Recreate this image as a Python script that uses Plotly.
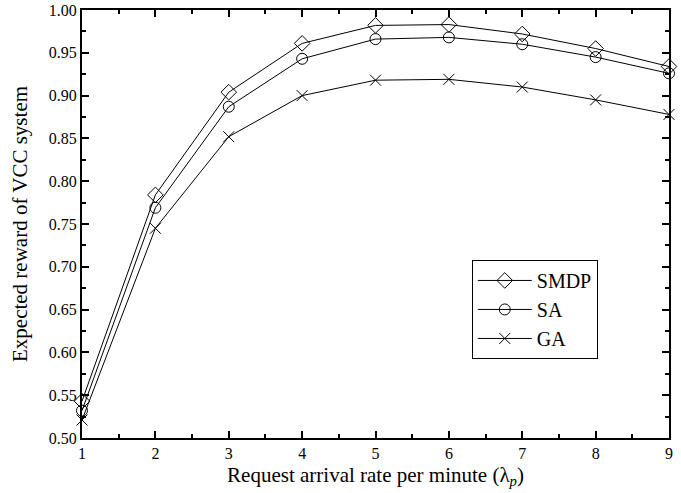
import plotly.graph_objects as go

x_vals = [1, 2, 3, 4, 5, 6, 7, 8, 9]
smdp = [0.543, 0.784, 0.904, 0.961, 0.982, 0.983, 0.972, 0.955, 0.934]
sa = [0.532, 0.769, 0.887, 0.943, 0.966, 0.968, 0.960, 0.945, 0.926]
ga = [0.521, 0.745, 0.852, 0.900, 0.918, 0.919, 0.910, 0.895, 0.878]

series = [
    ("SMDP", smdp, "diamond-open", 12),
    ("SA", sa, "circle-open", 11),
    ("GA", ga, "x-thin-open", 11),
]

fig = go.Figure()
for name, vals, sym, sz in series:
    fig.add_trace(go.Scatter(
        x=x_vals, y=vals, name=name, mode="lines+markers",
        line=dict(color="black", width=1),
        marker=dict(symbol=sym, size=sz, color="black",
                    line=dict(color="black", width=1)),
        cliponaxis=False,
    ))

font = "Liberation Serif, Times New Roman, serif"
axis_common = dict(
    showline=True, linecolor="black", linewidth=2, mirror="allticks",
    ticks="inside", ticklen=7, tickwidth=1.5, tickcolor="black",
    showgrid=False, zeroline=False, automargin=False,
    tickfont=dict(family=font, size=16, color="black"),
)

fig.update_layout(
    width=681, height=493,
    margin=dict(l=82, r=12, t=10, b=55),
    paper_bgcolor="white", plot_bgcolor="white",
    font=dict(family=font, color="black"),
    showlegend=True,
    legend=dict(
        x=0.664, y=0.416, xanchor="left", yanchor="top",
        bordercolor="black", borderwidth=1, bgcolor="white",
        font=dict(family=font, size=20, color="black"),
        tracegroupgap=0, itemwidth=54,
    ),
    xaxis=dict(
        range=[1, 9], tickvals=x_vals, ticktext=[str(v) for v in x_vals],
        minor=dict(ticks="inside", dtick=0.5, tick0=1, ticklen=4, tickwidth=1.5, tickcolor="black"),
        title=dict(text="Request arrival rate per minute (λ<sub><i>p</i></sub>)",
                   font=dict(family=font, size=21, color="black"), standoff=6),
        **axis_common,
    ),
    yaxis=dict(
        range=[0.5, 1.0], dtick=0.05, tick0=0.5, tickformat=".2f",
        minor=dict(ticks="inside", dtick=0.025, ticklen=4, tickwidth=1.5, tickcolor="black"),
        title=dict(text="Expected reward of VCC system",
                   font=dict(family=font, size=21, color="black"), standoff=15),
        **axis_common,
    ),
)

fig.write_html("out.html", config={"displayModeBar": False},
               post_script="document.body.style.margin='0';document.body.style.overflow='hidden';")
